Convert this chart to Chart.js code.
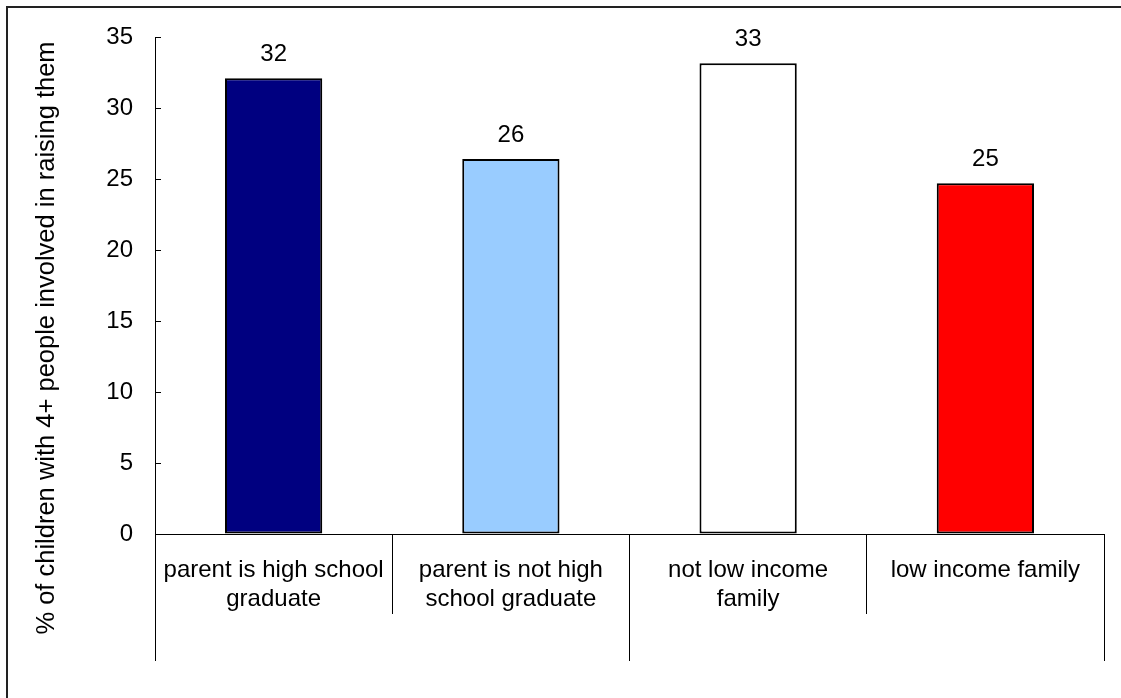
<!DOCTYPE html>
<html>
<head>
<meta charset="utf-8">
<script src="https://cdn.jsdelivr.net/npm/chart.js@4/dist/chart.umd.min.js"></script>
<style>
  html, body { margin: 0; padding: 0; background: #fff; }
  #wrap { width: 1121px; height: 698px; }
</style>
</head>
<body>
<div id="wrap"><canvas id="chart"></canvas></div>
<script>
const categories = [
    ['parent is high school', 'graduate'],
    ['parent is not high', 'school graduate'],
    ['not low income', 'family'],
    ['low income family']
];
const groups = ['', ''];
const values = [32.1, 26.4, 33.15, 24.7];
const barColors = ['#000080', '#99CCFF', '#FFFFFF', '#FF0000'];
const yTitle = '% of children with 4+ people involved in raising them';

const FONT = "'Liberation Sans', Arial, sans-serif";

// frame lines + axis title + value labels
const extras = {
    id: 'extras',
    beforeDraw(chart) {
        const ctx = chart.ctx;
        ctx.save();
        ctx.fillStyle = '#fff';
        ctx.fillRect(0, 0, chart.width, chart.height);
        ctx.strokeStyle = '#222';
        ctx.lineWidth = 2;
        ctx.beginPath();
        ctx.moveTo(7, chart.height);
        ctx.lineTo(7, 7);
        ctx.lineTo(chart.width, 7);
        ctx.stroke();
        ctx.restore();
    },
    afterDraw(chart) {
        const ctx = chart.ctx;
        ctx.save();
        ctx.fillStyle = '#000';
        ctx.font = '24px ' + FONT;
        ctx.textAlign = 'center';
        ctx.textBaseline = 'alphabetic';
        chart.getDatasetMeta(0).data.forEach((bar, i) => {
            ctx.fillText(String(Math.round(values[i])), bar.x, bar.y - 17);
        });
        ctx.font = '25.5px ' + FONT;
        ctx.translate(47, 338);
        ctx.rotate(-Math.PI / 2);
        ctx.textBaseline = 'middle';
        ctx.fillText(yTitle, 0, 0);
        ctx.restore();
    }
};

new Chart(document.getElementById('chart'), {
    type: 'bar',
    data: {
        labels: categories,
        datasets: [{
            data: values,
            backgroundColor: barColors,
            borderColor: '#000',
            borderWidth: 2,
            borderSkipped: false,
            barPercentage: 0.41,
            categoryPercentage: 1
        }]
    },
    options: {
        responsive: true,
        maintainAspectRatio: false,
        animation: false,
        layout: { padding: { left: 0, top: 37, right: 17, bottom: 37 } },
        plugins: { legend: { display: false }, tooltip: { enabled: false } },
        scales: {
            y: {
                min: 0,
                max: 35,
                ticks: { stepSize: 5, color: '#000', padding: 28, font: { size: 24, family: FONT } },
                grid: { drawOnChartArea: false, tickLength: -6, color: '#000' },
                border: { display: true, color: '#000', width: 1 },
                afterFit(scale) {
                    scale.width = 155;
                    scale.paddingTop = 0;
                    scale.paddingBottom = 0;
                }
            },
            x: {
                grid: { offset: true, drawOnChartArea: false, tickLength: 80, color: '#000' },
                border: { display: true, color: '#000', width: 1 },
                ticks: { color: '#000', padding: -58, maxRotation: 0, font: { size: 24, family: FONT } },
                afterFit(scale) { scale.height = 80; }
            },
            x2: {
                type: 'category',
                position: 'bottom',
                labels: groups,
                grid: { offset: true, drawOnChartArea: false, tickLength: 47, color: '#000' },
                border: { display: false },
                ticks: { display: true, font: { size: 1 } },
                afterFit(scale) { scale.height = 47; }
            }
        }
    },
    plugins: [extras]
});
</script>
</body>
</html>
